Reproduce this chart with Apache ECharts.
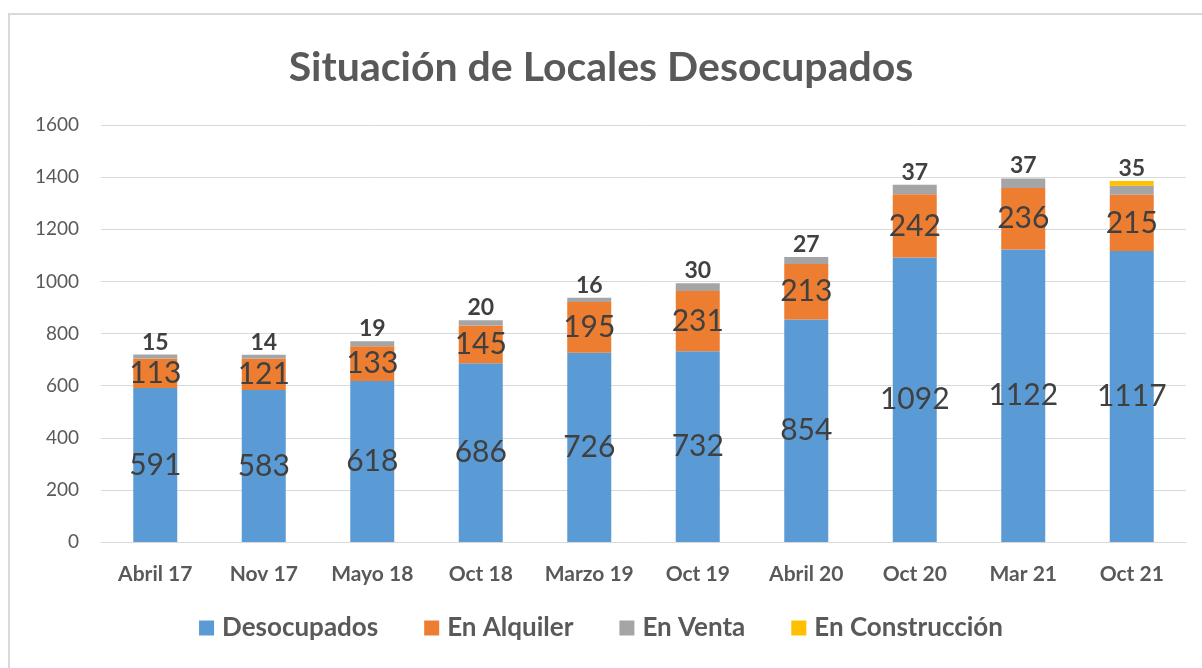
<!DOCTYPE html>
<html>
<head>
<meta charset="utf-8">
<script src="https://cdn.jsdelivr.net/npm/echarts@6/dist/echarts.min.js"></script>
<style>
html,body{margin:0;padding:0;background:#fff;}
.frame{position:absolute;left:8px;top:13px;width:1200px;height:670px;border-left:2px solid #d9d9d9;border-top:2px solid #d9d9d9;box-sizing:border-box;}
.charts{position:absolute;left:0;top:0;width:1202px;height:668px;}
</style>
</head>
<body>
<div class="frame"></div>
<div class="charts" id="chart"></div>
<script>
// datos
var categorias = ['Abril 17', 'Nov 17', 'Mayo 18', 'Oct 18', 'Marzo 19', 'Oct 19', 'Abril 20', 'Oct 20', 'Mar 21', 'Oct 21']
var desocupados = [591, 583, 618, 686, 726, 732, 854, 1092, 1122, 1117]
var enAlquiler = [113, 121, 133, 145, 195, 231, 213, 242, 236, 215]
var enVenta = [15, 14, 19, 20, 16, 30, 27, 37, 37, 35]
var enConstruccion = [0, 0, 0, 0, 0, 0, 0, 0, 0, 18]
var yTicks = [0, 200, 400, 600, 800, 1000, 1200, 1400, 1600]

var fuente = 'Lato, "Open Sans", sans-serif'
var gris = '#595959'
var textoDato = '#404040'

var myChart = echarts.init(document.getElementById('chart'))
var option = {
    animation: false,
    color: ['#5B9BD5', '#ED7D31', '#A5A5A5', '#FFC000'],
    title: {
        text: 'Situación de Locales Desocupados',
        left: 'center',
        top: 42,
        textStyle: {
            fontFamily: fuente,
            fontSize: 41,
            fontWeight: 'bold',
            color: gris
        }
    },
    legend: {
        bottom: 22,
        left: 'center',
        icon: 'rect',
        itemWidth: 15,
        itemHeight: 15,
        itemGap: 46,
        textStyle: {
            fontFamily: fuente,
            fontSize: 26,
            fontWeight: 'bold',
            color: gris,
            padding: [0, 0, 0, 3]
        },
        data: ['Desocupados', 'En Alquiler', 'En Venta', 'En Construcción']
    },
    grid: {
        top: 125,
        left: 101,
        right: 16,
        bottom: 126
    },
    xAxis: {
        type: 'category',
        data: categorias,
        axisTick: { show: false },
        axisLine: { lineStyle: { color: '#d9d9d9', width: 1 } },
        axisLabel: {
            interval: 0,
            margin: 22,
            fontFamily: fuente,
            fontSize: 21,
            fontWeight: 'bold',
            color: gris
        }
    },
    yAxis: {
        type: 'value',
        min: yTicks[0],
        max: yTicks[yTicks.length - 1],
        interval: 200,
        axisTick: { show: false },
        axisLine: { show: false },
        splitLine: { lineStyle: { color: '#d9d9d9' } },
        axisLabel: {
            margin: 22,
            fontFamily: fuente,
            fontSize: 19,
            color: gris,
            formatter: function (v) { return String(v) }
        }
    },
    series: [
        {
            name: 'Desocupados',
            type: 'bar',
            stack: 'total',
            barWidth: 44,
            label: {
                show: true,
                position: 'inside',
                fontFamily: fuente,
                fontSize: 30,
                color: textoDato
            },
            data: desocupados
        },
        {
            name: 'En Alquiler',
            type: 'bar',
            stack: 'total',
            label: {
                show: true,
                position: 'inside',
                fontFamily: fuente,
                fontSize: 30,
                color: textoDato
            },
            data: enAlquiler
        },
        {
            name: 'En Venta',
            type: 'bar',
            stack: 'total',
            data: enVenta
        },
        {
            name: 'En Construcción',
            type: 'bar',
            stack: 'total',
            // la etiqueta de venta va encima de toda la columna
            label: {
                show: true,
                position: 'top',
                distance: 1,
                fontFamily: fuente,
                fontSize: 23,
                fontWeight: 'bold',
                color: textoDato,
                formatter: function (p) { return enVenta[p.dataIndex] }
            },
            data: enConstruccion
        }
    ]
}
myChart.setOption(option)
</script>
</body>
</html>
